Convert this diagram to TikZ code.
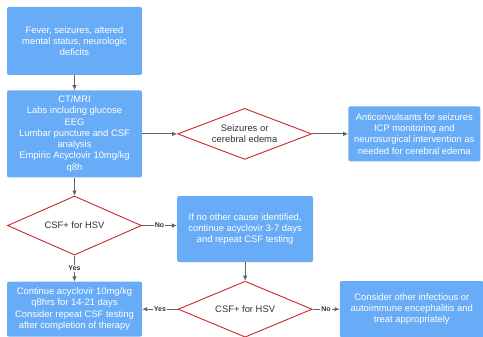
\documentclass[tikz,border=0pt]{standalone}
\usepackage{fontspec}
\setmainfont{Liberation Sans}
\usetikzlibrary{arrows.meta, positioning, shapes.geometric}
\definecolor{boxblue}{RGB}{104,172,247}
\definecolor{decred}{RGB}{200,40,45}
\definecolor{txtgray}{RGB}{51,51,51}
\definecolor{arrgray}{RGB}{100,100,100}

\begin{document}
\begin{tikzpicture}[
  x=1pt, y=-1pt,
  font=\fontsize{9.4}{11.3}\selectfont,
  box/.style={fill=boxblue, rounded corners=2pt, align=center, text=white,
              inner sep=3pt, minimum width=135pt},
  decide/.style={diamond, aspect=2.5, draw=decred, line width=0.9pt, fill=white,
                 text=txtgray, align=center, inner sep=0pt, minimum width=134pt},
  arr/.style={-{Latex[length=5pt,width=4.5pt]}, draw=arrgray, line width=0.8pt},
  lbl/.style={font=\fontsize{7}{8}\selectfont\bfseries, text=txtgray,
              fill=white, inner sep=1pt, midway}]

  \useasboundingbox (0,0) rectangle (483,337);

  % left column
  \node[box, minimum height=68pt] (fever) at (74.5,41)
    {Fever, seizures, altered\\ mental status, neurologic\\ deficits};
  \node[box, minimum height=87pt, below=15pt of fever] (workup)
    {CT/MRI\\ Labs including glucose\\ EEG\\ Lumbar puncture and CSF\\
     analysis\\ Empiric Acyclovir 10mg/kg\\ q8h};
  \node[decide, minimum height=59pt, below=18pt of workup] (csf1) {CSF+ for HSV};
  \node[box, minimum height=55pt, below=26pt of csf1] (continue)
    {Continue acyclovir 10mg/kg\\ q8hrs for 14-21 days\\
     Consider repeat CSF testing\\ after completion of therapy};

  % seizure branch
  \node[decide, minimum height=51pt, right=35pt of workup] (seiz)
    {Seizures or\\ cerebral edema};
  \node[box, minimum width=132pt, minimum height=55pt, right=36pt of seiz] (anticonv)
    {Anticonvulsants for seizures\\ ICP monitoring and\\
     neurosurgical intervention as\\ needed for cerebral edema};

  % negative CSF branch
  \node[box, minimum width=136pt, minimum height=66pt, right=35pt of csf1,
        yshift=-3.5pt] (repeat)
    {If no other cause identified,\\ continue acyclovir 3-7 days\\
     and repeat CSF testing};
  \node[decide, minimum height=56pt, right=35.5pt of continue] (csf2) {CSF+ for HSV};
  \node[box, minimum width=144pt, minimum height=56pt, right=27pt of csf2] (other)
    {Consider other infectious or\\ autoimmune encephalitis and\\
     treat appropriately};

  % flows
  \draw[arr] (fever) -- (workup);
  \draw[arr] (workup) -- (seiz);
  \draw[arr] (seiz) -- (anticonv);
  \draw[arr] (workup) -- (csf1);
  \draw[arr] (csf1.east) -- node[lbl] {No} (csf1.east -| repeat.west);
  \draw[arr] (csf1) -- node[lbl] {Yes} (continue);
  \draw[arr] (repeat) -- (csf2);
  \draw[arr] (csf2) -- node[lbl] {Yes} (continue);
  \draw[arr] (csf2) -- node[lbl] {No} (other);
\end{tikzpicture}
\end{document}
